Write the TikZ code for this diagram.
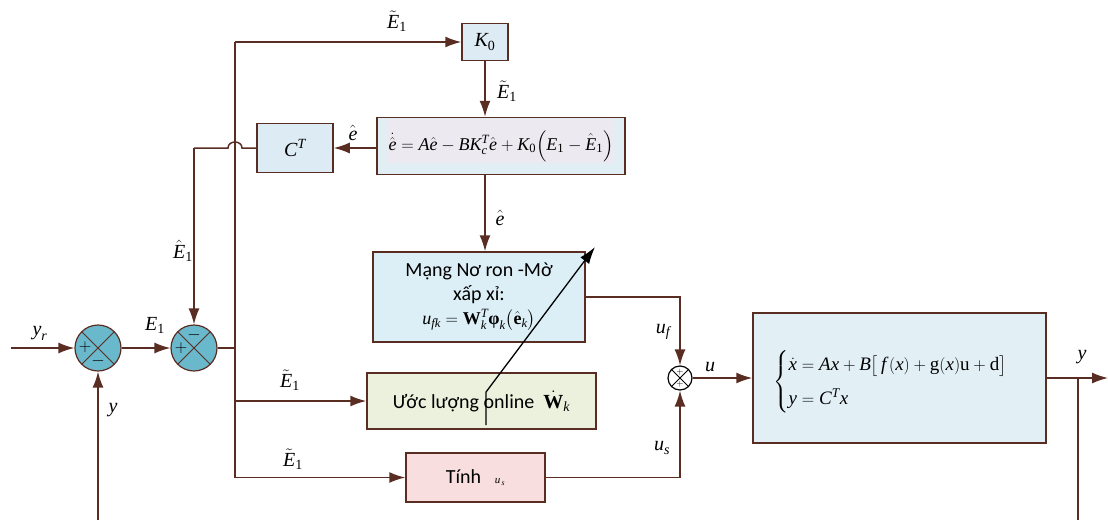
\documentclass[tikz,border=0pt]{standalone}
\usepackage{amsmath}
\usepackage[no-math]{fontspec}
\setmainfont{Carlito}
\newfontfamily\tms{Liberation Serif}
\newcommand{\tv}[1]{\text{\tms\itshape #1}}
\newcommand{\tu}[1]{\text{\tms #1}}
\newcommand{\tb}[1]{\text{\tms\bfseries #1}}
\usetikzlibrary{arrows.meta,calc}
\definecolor{lc}{HTML}{5A2D23}
\definecolor{teal1}{HTML}{6AB8CB}
\definecolor{kblue}{HTML}{DDEBF4}
\definecolor{obsblue}{HTML}{E1EFF5}
\definecolor{lav}{HTML}{ECE9F1}
\definecolor{nnblue}{HTML}{DCEEF6}
\definecolor{estgreen}{HTML}{EBF1DD}
\definecolor{tpink}{HTML}{F8DEDF}
\definecolor{plantblue}{HTML}{E2F0F6}
\tikzset{
  wire/.style={draw=lc, line width=1.5pt},
  arr/.style={wire, -{Latex[length=16pt,width=11pt]}},
  blk/.style={draw=lc, line width=1.5pt, rectangle, inner sep=0pt},
  sumj/.style={circle, draw=lc, fill=teal1, line width=1.2pt, minimum size=46pt, inner sep=0pt,
    path picture={\draw[lc,line width=0.9pt] (path picture bounding box.north west) -- (path picture bounding box.south east)
      (path picture bounding box.north east) -- (path picture bounding box.south west);}},
  smallsum/.style={circle, draw=black, fill=white, line width=1.2pt, minimum size=24pt, inner sep=0pt,
    path picture={\draw[black,line width=1pt] (path picture bounding box.north west) -- (path picture bounding box.south east)
      (path picture bounding box.north east) -- (path picture bounding box.south west);}},
  sgn/.style={inner sep=0pt, font=\fontsize{18}{18}\selectfont},
  ssgn/.style={inner sep=0pt, font=\fontsize{9}{9}\selectfont},
  lbl/.style={inner sep=0pt, font=\fontsize{20}{24}\selectfont},
  txt/.style={font=\fontsize{20}{25}\selectfont},
}
\begin{document}
\begin{tikzpicture}[x=1pt,y=-1pt, font=\fontsize{18}{21}\selectfont]
\useasboundingbox (0,0) rectangle (1108,520);

% summing junctions
\node[sumj] (s1) at (98,348) {};
\node[sumj] (s2) at (194,348) {};
\node[sgn] (s1p) at ($(s1)+(-13,-1)$) {$+$};
\node[sgn] (s1m) at ($(s1)+(0,13)$) {$-$};
\node[sgn] (s2p) at ($(s2)+(-13,0)$) {$+$};
\node[sgn] (s2m) at ($(s2)+(0,-13)$) {$-$};

% blocks
\node[blk, fill=kblue, minimum width=46, minimum height=37, lbl] (K0) at (485,42) {$\tv{K}_{\tu{0}}$};
\node[blk, fill=obsblue, minimum width=248, minimum height=57] (obs) at (501,146) {};
\fill[lav] (387,119) rectangle (613,163);
\node[inner sep=0pt] (obst) at (obs.center)
  {$\dot{\hat{\tv{e}}} = \tv{A}\hat{\tv{e}} - \tv{BK}_{\tv{c}}^{\tv{T}}\hat{\tv{e}} + \tv{K}_{\tu{0}}\Bigl(\tv{E}_{\tu{1}}-\hat{\tv{E}}_{\tu{1}}\Bigr)$};
\node[blk, fill=kblue, minimum width=76, minimum height=49, lbl] (CT) at (295,148) {$\tv{C}^{\tv{T}}$};
\node[blk, fill=nnblue, minimum width=212, minimum height=90, align=center, txt] (nn) at (479,297)
  {Mạng Nơ ron -Mờ\\[-1pt] xấp xỉ:\\[-1pt] {\fontsize{18}{20}\selectfont$\tv{u}_{\tv{fk}}=\tb{W}_{\tv{k}}^{\tv{T}}\tb{φ}_{\tv{k}}\bigl(\hat{\tb{e}}_{\tv{k}}\bigr)$}};
\node[blk, fill=estgreen, minimum width=229, minimum height=56, txt] (est) at (481.5,401)
  {Ước lượng online\ \ $\dot{\tb{W}}_{\tv{k}}$};
\node[blk, fill=tpink, minimum width=139, minimum height=49, txt] (tinh) at (475.5,477.5)
  {Tính\ \ \ {\fontsize{11}{12}\selectfont$\tv{u}_{\,\tv{s}}$}};
\node[smallsum] (s3) at (680,378) {};
\node[ssgn] (s3p) at ($(s3)+(0,-6)$) {$+$};
\node[ssgn] (s3q) at ($(s3)+(0,6)$) {$+$};
\node[blk, fill=plantblue, minimum width=293, minimum height=130] (plant) at (899.5,378) {};
\node[inner sep=0pt, font=\fontsize{19}{23}\selectfont] (plantt) at (900,382)
  {$\begin{cases}\dot{\tv{x}} = \tv{Ax} + \tv{B}\bigl[\,\tv{f}\,(\tv{x}) + \tu{g}(\tv{x})\tu{u} + \tu{d}\bigr]\\[6pt] \tv{y} = \tv{C}^{\tv{T}} \tv{x}\end{cases}$};

% coordinates
\coordinate (in) at (11,348);
\coordinate (b0) at (235,348);
\coordinate (btop) at (235,42);
\coordinate (b400) at (235,401);
\coordinate (b477) at (235,477.5);
\coordinate (ybot1) at (98,520);
\coordinate (hopR) at (242,148);
\coordinate (hopL) at (228,148);
\coordinate (ctl) at (194,148);
\coordinate (nnr) at (680,297);
\coordinate (tr) at (680,477.5);
\coordinate (yb) at (1078,378);
\coordinate (yb2) at (1078,520);
\coordinate (out) at (1108,378);
\coordinate (d0) at (486,425);
\coordinate (d1) at (486,392);
\coordinate (d2) at (595,247);

% connectors
\draw[arr] (in) -- (s1);
\draw[arr] (s1) -- (s2);
\draw[arr] (ybot1) -- (s1);
\draw[wire] (s2) -- (b0);
\draw[wire] (btop) -- (b477);
\draw[arr] (btop) -- (K0);
\draw[arr] (K0) -- (obs.north -| K0);
\draw[arr] (obs.west |- CT) -- (CT);
\draw[wire] (CT.west) -- (hopR) .. controls (242,140) and (228,140) .. (hopL) -- (ctl);
\draw[arr] (ctl) -- (s2.north);
\draw[arr] (obs.south -| K0) -- (nn.north -| K0);
\draw[arr] (nn.east) -- (nnr) -- (s3.north);
\draw[arr] (b400) -- (est.west);
\draw[arr] (b477) -- (tinh.west);
\draw[arr] (tinh.east) -- (tr) -- (s3.south);
\draw[arr] (s3.east) -- (plant.west);
\draw[arr] (plant.east) -- (out);
\draw[wire] (yb) -- (yb2);
\draw[black, line width=1.3pt, -{Latex[length=17pt,width=11pt]}] (d0) -- (d1) -- (d2);

% labels
\node[lbl] (lyr) at (40,333) {$\tv{y}_{\tv{r}}$};
\node[lbl] (lE1) at (155,325) {$\tv{E}_{\tu{1}}$};
\node[lbl] (ly1) at (113,410) {$\tv{y}$};
\node[lbl] (lEt1) at (397,21) {$\tilde{\tv{E}}_{\tu{1}}$};
\node[lbl] (lEt2) at (507,91) {$\tilde{\tv{E}}_{\tu{1}}$};
\node[lbl] (leh1) at (353,133) {$\hat{\tv{e}}$};
\node[lbl] (lEh) at (183,251) {$\hat{\tv{E}}_{\tu{1}}$};
\node[lbl] (leh2) at (500,218) {$\hat{\tv{e}}$};
\node[lbl] (luf) at (663,332) {$\tv{u}_{\tv{f}}$};
\node[lbl] (lEt3) at (290,380) {$\tilde{\tv{E}}_{\tu{1}}$};
\node[lbl] (lEt4) at (293,459) {$\tilde{\tv{E}}_{\tu{1}}$};
\node[lbl] (lus) at (662,448) {$\tv{u}_{\tv{s}}$};
\node[lbl] (lu) at (710,367) {$\tv{u}$};
\node[lbl] (ly2) at (1082,357) {$\tv{y}$};
\end{tikzpicture}
\end{document}
